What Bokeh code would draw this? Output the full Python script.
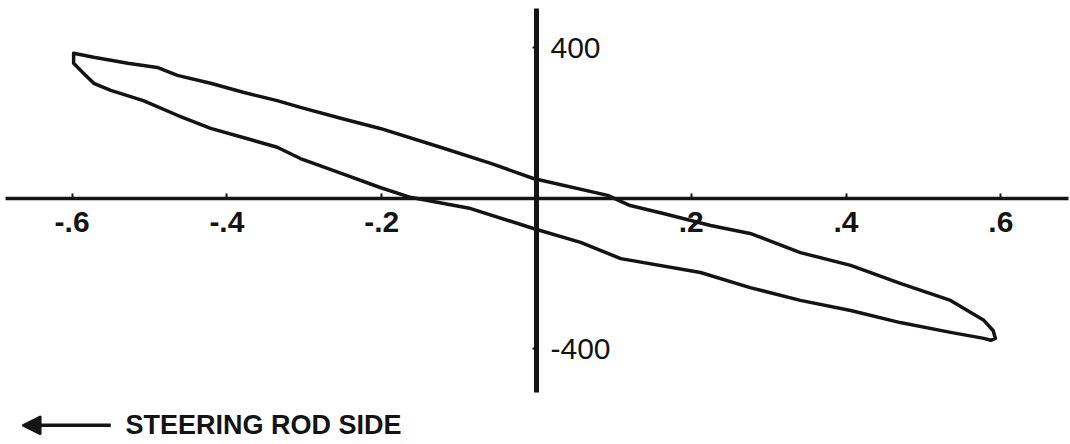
from bokeh.plotting import figure
from bokeh.models import (LinearAxis, FixedTicker, Range1d, Label, Arrow,
                          NormalHead, ColumnDataSource)
from bokeh.embed import file_html
from bokeh.resources import INLINE

# Axis ticks and their printed labels
x_ticks = [-0.6, -0.4, -0.2, 0.2, 0.4, 0.6]
x_tick_labels = ["-.6", "-.4", "-.2", ".2", ".4", ".6"]
y_ticks = [-400, 400]
y_tick_labels = ["-400", "400"]

# Hysteresis loop: upper branch (left tip -> right tip)
upper_x = [-0.598, -0.572, -0.528, -0.490, -0.464, -0.421, -0.379, -0.335,
           -0.305, -0.253, -0.202, -0.124, -0.059, -0.004, 0.092, 0.121,
           0.164, 0.225, 0.276, 0.341, 0.406, 0.470, 0.535, 0.578, 0.590, 0.593]
upper_y = [386, 375, 359, 348, 327, 306, 282, 260,
           242, 213, 186, 136, 93, 53, 8, -19,
           -40, -72, -93, -144, -178, -226, -271, -324, -351, -372]

# lower branch (right tip -> left tip)
lower_x = [0.587, 0.578, 0.535, 0.470, 0.406, 0.341, 0.276, 0.212, 0.109,
           0.057, -0.004, -0.085, -0.163, -0.202, -0.253, -0.305, -0.335,
           -0.379, -0.421, -0.464, -0.508, -0.550, -0.572, -0.585, -0.598,
           -0.598]
lower_y = [-377, -372, -356, -330, -298, -271, -237, -197, -160,
           -117, -80, -27, 3, 29, 67, 106, 136,
           162, 186, 221, 260, 287, 306, 332, 359,
           386]

INK = "#141414"

loop = ColumnDataSource(dict(x=upper_x + lower_x, y=upper_y + lower_y))

p = figure(width=1070, height=444, output_backend="svg", toolbar_location=None,
           x_range=Range1d(-0.6925, 0.690), y_range=Range1d(-654, 526),
           x_axis_location=None, y_axis_location=None, min_border=0)
p.grid.grid_line_color = None
p.outline_line_color = None
p.background_fill_color = "white"
p.border_fill_color = "white"

# Horizontal axis crossing at y = 0
xaxis = LinearAxis(fixed_location=0, bounds=(-0.686, 0.687),
                   ticker=FixedTicker(ticks=x_ticks),
                   major_label_overrides=dict(zip(x_ticks, x_tick_labels)))
xaxis.axis_line_width = 3.5
xaxis.axis_line_color = INK
xaxis.major_tick_in = 5
xaxis.major_tick_out = 0
xaxis.major_tick_line_width = 2
xaxis.major_tick_line_color = INK
xaxis.minor_tick_line_color = None
xaxis.major_label_standoff = 14
xaxis.major_label_text_font = "Liberation Sans"
xaxis.major_label_text_font_style = "bold"
xaxis.major_label_text_font_size = "30px"
xaxis.major_label_text_color = INK
p.add_layout(xaxis, "below")

# Vertical axis crossing at x = 0, labels to its right
yaxis = LinearAxis(fixed_location=0, bounds=(-516, 505),
                   ticker=FixedTicker(ticks=y_ticks),
                   major_label_overrides=dict(zip(y_ticks, y_tick_labels)))
yaxis.axis_line_width = 5
yaxis.axis_line_color = INK
yaxis.major_tick_in = 4
yaxis.major_tick_out = 0
yaxis.major_tick_line_width = 2
yaxis.major_tick_line_color = INK
yaxis.minor_tick_line_color = None
yaxis.major_label_standoff = 14
yaxis.major_label_text_font = "Liberation Sans"
yaxis.major_label_text_font_size = "30px"
yaxis.major_label_text_color = INK
p.add_layout(yaxis, "right")

p.line("x", "y", source=loop, line_width=3.5, line_color=INK,
       line_join="round", line_cap="round")

# Direction note below the chart
p.add_layout(Arrow(end=NormalHead(size=18, fill_color=INK, line_color=INK,
                                  line_width=2),
                   x_start=-0.550, y_start=-603, x_end=-0.664, y_end=-603,
                   line_width=3.5, line_color=INK))
p.add_layout(Label(x=-0.531, y=-601, text="STEERING ROD SIDE",
                   text_font="Liberation Sans", text_font_style="bold",
                   text_font_size="27px", text_color=INK,
                   text_baseline="middle"))

open("out.html", "w").write(file_html(p, INLINE))
